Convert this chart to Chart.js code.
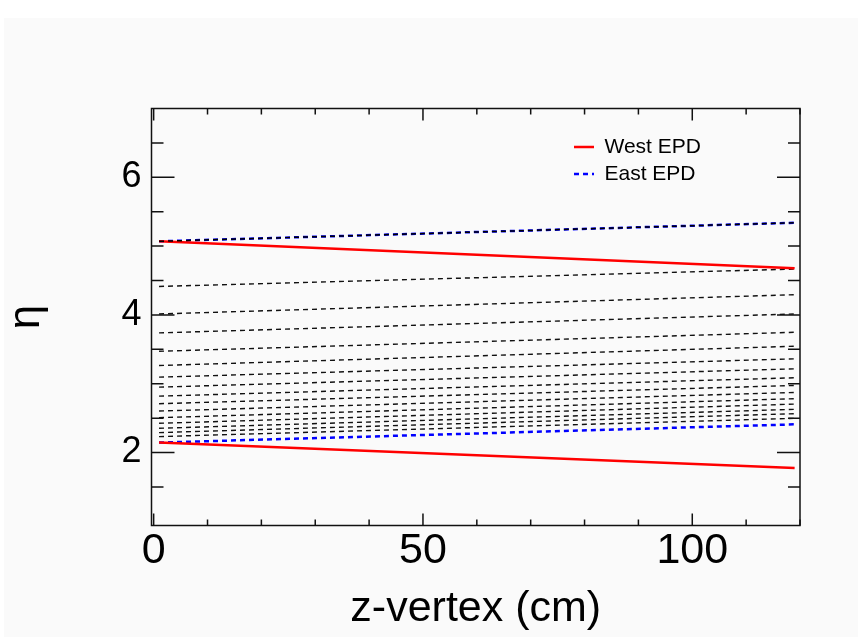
<!DOCTYPE html>
<html>
<head>
<meta charset="utf-8">
<title>EPD eta vs z-vertex</title>
<script src="https://cdn.jsdelivr.net/npm/chart.js@4.4.1/dist/chart.umd.min.js"></script>
<style>
  html, body { margin: 0; padding: 0; background: #fff; }
  #wrap { width: 858px; height: 637px; position: relative; }
</style>
</head>
<body>
<div id="wrap"><canvas id="etaChart"></canvas></div>
<script>
// =========================
// DATA
// =========================
const zVertex = [1, 119];              // cm, both ends of every line

const westInner = [5.07, 4.68];
const westOuter = [2.145, 1.775];
const eastInner = [5.07, 5.34];
const eastOuter = [2.145, 2.41];

// east ring boundaries between inner and outer edge: value at first / last z
const ringAtStart = [4.414, 4.014, 3.739, 3.472, 3.265, 3.096, 2.951, 2.820,
                     2.710, 2.603, 2.507, 2.425, 2.353, 2.290, 2.232];
const ringAtEnd   = [4.667, 4.294, 4.014, 3.748, 3.545, 3.362, 3.217, 3.087,
                     2.975, 2.874, 2.783, 2.704, 2.628, 2.565, 2.497];

const xTickLabels = [0, 50, 100];
const yTickLabels = [2, 4, 6];
const xTickMarks = [0, 10, 20, 30, 40, 50, 60, 70, 80, 90, 100, 110, 120];
const yTickMarks = [1.5, 2, 2.5, 3, 3.5, 4, 4.5, 5, 5.5, 6, 6.5];

const FONT = "'Liberation Sans', Arial, sans-serif";

const pts = (ys) => zVertex.map((z, i) => ({ x: z, y: ys[i] }));

// =========================
// DATASETS (index 0 is painted last / on top)
// =========================
const datasets = [];

// black ring edge drawn over the inner east edge (gives the navy look)
datasets.push({ data: pts(eastInner), borderColor: "#000", borderWidth: 1.5, borderDash: [5, 4] });

datasets.push({ label: "West EPD", data: pts(westInner), borderColor: "#ff0000", borderWidth: 2.5 });
datasets.push({ data: pts(westOuter), borderColor: "#ff0000", borderWidth: 2.5 });

datasets.push({ label: "East EPD", data: pts(eastInner), borderColor: "#0000ff", borderWidth: 2.5, borderDash: [5, 4] });
datasets.push({ data: pts(eastOuter), borderColor: "#0000ff", borderWidth: 2.5, borderDash: [5, 4] });

ringAtStart.forEach((v, i) => {
    datasets.push({ data: pts([v, ringAtEnd[i]]), borderColor: "#111", borderWidth: 1.4, borderDash: [5, 4] });
});

// =========================
// ROOT-like frame, inward ticks, background
// =========================
const rootFrame = {
    id: "rootFrame",
    beforeDraw(chart) {
        const ctx = chart.ctx;
        ctx.save();
        ctx.fillStyle = "#ffffff";
        ctx.fillRect(0, 0, chart.width, chart.height);
        ctx.fillStyle = "#fafafa";
        ctx.fillRect(4, 18, chart.width - 4, chart.height - 18);
        ctx.restore();
    },
    afterLayout(chart) {
        // park the legend in the upper right of the frame
        const lg = chart.legend;
        if (!lg) return;
        lg.left = 568;
        lg.top = 130.5;
        lg.right = lg.left + lg.width;
        lg.bottom = lg.top + 80;
        lg.height = 80;
    },
    afterDatasetsDraw(chart) {
        const { ctx, chartArea: a, scales } = chart;
        const x = scales.x, y = scales.y;
        ctx.save();
        ctx.strokeStyle = "#111";
        ctx.lineWidth = 1.5;
        ctx.strokeRect(a.left, a.top, a.right - a.left, a.bottom - a.top);

        ctx.beginPath();
        xTickMarks.forEach(v => {
            const px = x.getPixelForValue(v);
            const len = xTickLabels.includes(v) ? 12 : 6;
            ctx.moveTo(px, a.bottom); ctx.lineTo(px, a.bottom - len);
            ctx.moveTo(px, a.top);    ctx.lineTo(px, a.top + len);
        });
        yTickMarks.forEach(v => {
            const py = y.getPixelForValue(v);
            const len = yTickLabels.includes(v) ? 23 : 12;
            ctx.moveTo(a.left, py);  ctx.lineTo(a.left + len, py);
            ctx.moveTo(a.right, py); ctx.lineTo(a.right - len, py);
        });
        ctx.stroke();
        ctx.restore();
    }
};

// =========================
// CHART
// =========================
const ctx = document.getElementById("etaChart").getContext("2d");

new Chart(ctx, {
    type: "line",
    data: { datasets },
    options: {
        responsive: true,
        maintainAspectRatio: false,
        animation: false,
        events: [],
        layout: { padding: { left: 0, top: 108.5, right: 58, bottom: 0 } },
        elements: {
            point: { radius: 0, hoverRadius: 0 },
            line: { tension: 0, fill: false, borderCapStyle: "butt" }
        },
        plugins: {
            tooltip: { enabled: false },
            legend: {
                position: "chartArea",
                align: "start",
                labels: {
                    usePointStyle: true,
                    pointStyleWidth: 20,
                    padding: 6,
                    color: "#000",
                    font: { family: FONT, size: 21 },
                    generateLabels(chart) {
                        const items = Chart.defaults.plugins.legend.labels.generateLabels(chart);
                        return items.filter(it => it.text).map(it => {
                            const ds = chart.data.datasets[it.datasetIndex];
                            return Object.assign(it, {
                                pointStyle: "line",
                                strokeStyle: ds.borderColor,
                                lineWidth: ds.borderWidth,
                                lineDash: ds.borderDash || []
                            });
                        });
                    }
                }
            }
        },
        scales: {
            x: {
                type: "linear",
                min: -0.4,
                max: 120,
                grid: { display: false, drawTicks: false },
                border: { display: false },
                afterBuildTicks: (s) => { s.ticks = xTickLabels.map(v => ({ value: v })); },
                afterFit: (s) => { s.height = 111.5; },
                ticks: {
                    color: "#000",
                    padding: 4.5,
                    maxRotation: 0,
                    font: { family: FONT, size: 43, lineHeight: 1 }
                },
                title: {
                    display: true,
                    text: "z-vertex (cm)",
                    color: "#000",
                    padding: { top: 0, bottom: 6.5 },
                    font: { family: FONT, size: 43, lineHeight: 1 }
                }
            },
            y: {
                type: "linear",
                min: 0.94,
                max: 7,
                grid: { display: false, drawTicks: false },
                border: { display: false },
                afterBuildTicks: (s) => { s.ticks = yTickLabels.map(v => ({ value: v })); },
                afterFit: (s) => { s.width = 151.5; },
                ticks: {
                    color: "#000",
                    padding: 10,
                    font: { family: FONT, size: 36, lineHeight: 1 }
                },
                title: {
                    display: true,
                    text: "η",
                    color: "#000",
                    padding: { top: 5, bottom: 0 },
                    font: { family: FONT, size: 44, lineHeight: 1 }
                }
            }
        }
    },
    plugins: [rootFrame]
});
</script>
</body>
</html>
